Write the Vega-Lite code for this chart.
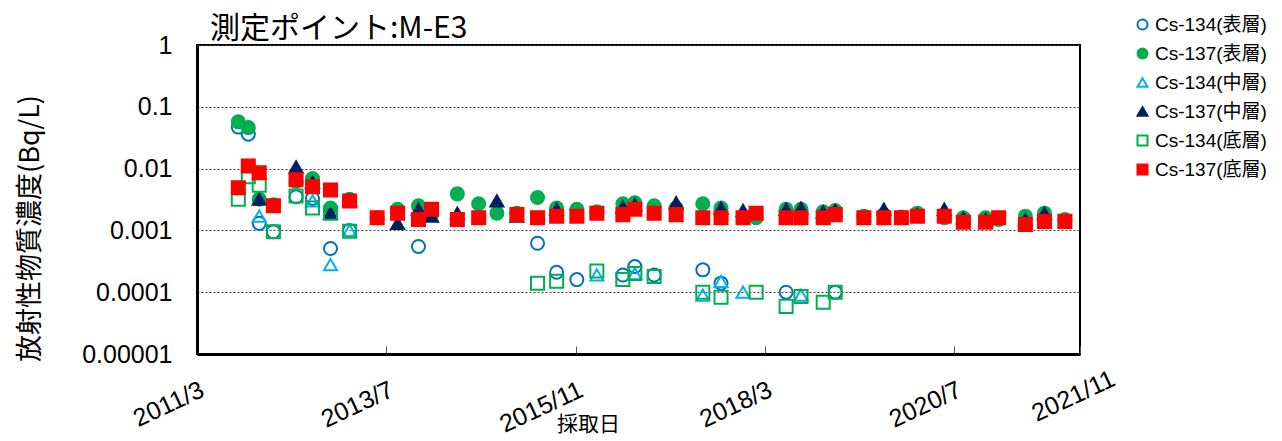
{
  "$schema": "https://vega.github.io/schema/vega-lite/v6.json",
  "width": 883,
  "height": 309,
  "autosize": {"type": "none"},
  "padding": {"left": 197, "top": 45, "right": 202, "bottom": 87},
  "background": "white",
  "title": {"text": "測定ポイント:M-E3", "anchor": "start", "frame": "group", "dx": 13, "dy": 35, "offset": 6, "fontSize": 30, "font": "Noto Sans CJK JP", "fontWeight": "normal", "color": "#000"},
  "config": {
    "view": {"stroke": "#000", "strokeWidth": 2},
    "legend": {"orient": "none", "legendX": 936, "legendY": -30, "symbolSize": 100, "symbolStrokeWidth": 2, "labelFontSize": 19, "labelFont": "Liberation Sans, Noto Sans CJK JP", "labelColor": "#000", "rowPadding": 9, "padding": 0, "labelOffset": 3, "labelLimit": 300}
  },
  "data": {"values": [
    {"s":"Cs-134(表層)","d":"2011-09-03","v":0.047},
    {"s":"Cs-134(表層)","d":"2011-10-18","v":0.036},
    {"s":"Cs-134(表層)","d":"2011-12-06","v":0.0013},
    {"s":"Cs-134(表層)","d":"2012-02-08","v":0.00095},
    {"s":"Cs-134(表層)","d":"2012-05-20","v":0.0035},
    {"s":"Cs-134(表層)","d":"2012-08-02","v":0.0033},
    {"s":"Cs-134(表層)","d":"2012-10-22","v":0.00051},
    {"s":"Cs-134(表層)","d":"2013-01-16","v":0.001},
    {"s":"Cs-134(表層)","d":"2013-11-22","v":0.00055},
    {"s":"Cs-134(表層)","d":"2015-05-12","v":0.00062},
    {"s":"Cs-134(表層)","d":"2015-08-06","v":0.00021},
    {"s":"Cs-134(表層)","d":"2015-11-05","v":0.00016},
    {"s":"Cs-134(表層)","d":"2016-05-30","v":0.00019},
    {"s":"Cs-134(表層)","d":"2016-07-23","v":0.00026},
    {"s":"Cs-134(表層)","d":"2016-10-18","v":0.00019},
    {"s":"Cs-134(表層)","d":"2017-05-25","v":0.00023},
    {"s":"Cs-134(表層)","d":"2017-08-15","v":0.00014},
    {"s":"Cs-134(表層)","d":"2018-06-04","v":0.0001},
    {"s":"Cs-134(表層)","d":"2019-01-11","v":0.0001},

    {"s":"Cs-137(表層)","d":"2011-09-03","v":0.057},
    {"s":"Cs-137(表層)","d":"2011-10-18","v":0.046},
    {"s":"Cs-137(表層)","d":"2011-12-06","v":0.0032},
    {"s":"Cs-137(表層)","d":"2012-02-08","v":0.0026},
    {"s":"Cs-137(表層)","d":"2012-05-20","v":0.0062},
    {"s":"Cs-137(表層)","d":"2012-08-02","v":0.0069},
    {"s":"Cs-137(表層)","d":"2012-10-22","v":0.0023},
    {"s":"Cs-137(表層)","d":"2013-01-16","v":0.0032},
    {"s":"Cs-137(表層)","d":"2013-05-20","v":0.0016},
    {"s":"Cs-137(表層)","d":"2013-08-20","v":0.0022},
    {"s":"Cs-137(表層)","d":"2013-11-22","v":0.0025},
    {"s":"Cs-137(表層)","d":"2014-01-20","v":0.0018},
    {"s":"Cs-137(表層)","d":"2014-05-16","v":0.0039},
    {"s":"Cs-137(表層)","d":"2014-08-20","v":0.0027},
    {"s":"Cs-137(表層)","d":"2014-11-10","v":0.0019},
    {"s":"Cs-137(表層)","d":"2015-02-08","v":0.0019},
    {"s":"Cs-137(表層)","d":"2015-05-12","v":0.0034},
    {"s":"Cs-137(表層)","d":"2015-08-06","v":0.0023},
    {"s":"Cs-137(表層)","d":"2015-11-05","v":0.0022},
    {"s":"Cs-137(表層)","d":"2016-02-03","v":0.002},
    {"s":"Cs-137(表層)","d":"2016-05-30","v":0.0027},
    {"s":"Cs-137(表層)","d":"2016-07-23","v":0.0028},
    {"s":"Cs-137(表層)","d":"2016-10-18","v":0.0025},
    {"s":"Cs-137(表層)","d":"2017-01-25","v":0.0023},
    {"s":"Cs-137(表層)","d":"2017-05-25","v":0.0027},
    {"s":"Cs-137(表層)","d":"2017-08-15","v":0.0023},
    {"s":"Cs-137(表層)","d":"2018-01-20","v":0.0016},
    {"s":"Cs-137(表層)","d":"2018-06-04","v":0.0022},
    {"s":"Cs-137(表層)","d":"2018-08-10","v":0.0022},
    {"s":"Cs-137(表層)","d":"2018-11-18","v":0.002},
    {"s":"Cs-137(表層)","d":"2019-01-11","v":0.0021},
    {"s":"Cs-137(表層)","d":"2019-05-20","v":0.0017},
    {"s":"Cs-137(表層)","d":"2019-08-18","v":0.0018},
    {"s":"Cs-137(表層)","d":"2019-11-05","v":0.00165},
    {"s":"Cs-137(表層)","d":"2020-01-16","v":0.0019},
    {"s":"Cs-137(表層)","d":"2020-05-16","v":0.0016},
    {"s":"Cs-137(表層)","d":"2020-08-10","v":0.0016},
    {"s":"Cs-137(表層)","d":"2020-11-18","v":0.0016},
    {"s":"Cs-137(表層)","d":"2021-01-16","v":0.0015},
    {"s":"Cs-137(表層)","d":"2021-05-16","v":0.0017},
    {"s":"Cs-137(表層)","d":"2021-08-10","v":0.0019},
    {"s":"Cs-137(表層)","d":"2021-11-10","v":0.0015},

    {"s":"Cs-134(中層)","d":"2011-12-06","v":0.0017},
    {"s":"Cs-134(中層)","d":"2012-08-02","v":0.003},
    {"s":"Cs-134(中層)","d":"2012-10-22","v":0.00028},
    {"s":"Cs-134(中層)","d":"2013-01-16","v":0.001},
    {"s":"Cs-134(中層)","d":"2016-02-03","v":0.00019},
    {"s":"Cs-134(中層)","d":"2016-07-23","v":0.0002},
    {"s":"Cs-134(中層)","d":"2017-05-25","v":0.00009},
    {"s":"Cs-134(中層)","d":"2017-08-15","v":0.00015},
    {"s":"Cs-134(中層)","d":"2017-11-22","v":0.0001},
    {"s":"Cs-134(中層)","d":"2018-08-10","v":0.00009},

    {"s":"Cs-137(中層)","d":"2011-12-06","v":0.0032},
    {"s":"Cs-137(中層)","d":"2012-05-20","v":0.0107},
    {"s":"Cs-137(中層)","d":"2012-08-02","v":0.006},
    {"s":"Cs-137(中層)","d":"2012-10-22","v":0.0019},
    {"s":"Cs-137(中層)","d":"2013-01-16","v":0.0031},
    {"s":"Cs-137(中層)","d":"2013-08-20","v":0.0013},
    {"s":"Cs-137(中層)","d":"2013-11-22","v":0.0022},
    {"s":"Cs-137(中層)","d":"2014-01-20","v":0.0017},
    {"s":"Cs-137(中層)","d":"2014-05-16","v":0.0019},
    {"s":"Cs-137(中層)","d":"2014-11-10","v":0.003},
    {"s":"Cs-137(中層)","d":"2015-02-08","v":0.0017},
    {"s":"Cs-137(中層)","d":"2015-08-06","v":0.0022},
    {"s":"Cs-137(中層)","d":"2016-05-30","v":0.0024},
    {"s":"Cs-137(中層)","d":"2016-07-23","v":0.0026},
    {"s":"Cs-137(中層)","d":"2017-01-25","v":0.0028},
    {"s":"Cs-137(中層)","d":"2017-08-15","v":0.0023},
    {"s":"Cs-137(中層)","d":"2017-11-22","v":0.0021},
    {"s":"Cs-137(中層)","d":"2018-06-04","v":0.0022},
    {"s":"Cs-137(中層)","d":"2018-08-10","v":0.0023},
    {"s":"Cs-137(中層)","d":"2018-11-18","v":0.002},
    {"s":"Cs-137(中層)","d":"2019-01-11","v":0.0021},
    {"s":"Cs-137(中層)","d":"2019-08-18","v":0.0022},
    {"s":"Cs-137(中層)","d":"2020-01-16","v":0.0018},
    {"s":"Cs-137(中層)","d":"2020-05-16","v":0.0022},
    {"s":"Cs-137(中層)","d":"2020-08-10","v":0.0016},
    {"s":"Cs-137(中層)","d":"2020-11-18","v":0.0015},
    {"s":"Cs-137(中層)","d":"2021-05-16","v":0.0015},
    {"s":"Cs-137(中層)","d":"2021-08-10","v":0.0019},

    {"s":"Cs-134(底層)","d":"2011-09-03","v":0.0032},
    {"s":"Cs-134(底層)","d":"2011-10-18","v":0.0074},
    {"s":"Cs-134(底層)","d":"2011-12-06","v":0.0054},
    {"s":"Cs-134(底層)","d":"2012-02-08","v":0.00095},
    {"s":"Cs-134(底層)","d":"2012-05-20","v":0.0036},
    {"s":"Cs-134(底層)","d":"2012-08-02","v":0.0023},
    {"s":"Cs-134(底層)","d":"2012-10-22","v":0.0019},
    {"s":"Cs-134(底層)","d":"2013-01-16","v":0.00097},
    {"s":"Cs-134(底層)","d":"2015-05-12","v":0.00014},
    {"s":"Cs-134(底層)","d":"2015-08-06","v":0.00015},
    {"s":"Cs-134(底層)","d":"2016-02-03","v":0.00022},
    {"s":"Cs-134(底層)","d":"2016-05-30","v":0.00016},
    {"s":"Cs-134(底層)","d":"2016-07-23","v":0.0002},
    {"s":"Cs-134(底層)","d":"2016-10-18","v":0.00018},
    {"s":"Cs-134(底層)","d":"2017-05-25","v":0.0001},
    {"s":"Cs-134(底層)","d":"2017-08-15","v":0.000083},
    {"s":"Cs-134(底層)","d":"2018-01-20","v":0.0001},
    {"s":"Cs-134(底層)","d":"2018-06-04","v":0.000059},
    {"s":"Cs-134(底層)","d":"2018-08-10","v":0.000085},
    {"s":"Cs-134(底層)","d":"2018-11-18","v":0.000069},
    {"s":"Cs-134(底層)","d":"2019-01-11","v":0.0001},

    {"s":"Cs-137(底層)","d":"2011-09-03","v":0.0049},
    {"s":"Cs-137(底層)","d":"2011-10-18","v":0.011},
    {"s":"Cs-137(底層)","d":"2011-12-06","v":0.0086},
    {"s":"Cs-137(底層)","d":"2012-02-08","v":0.0025},
    {"s":"Cs-137(底層)","d":"2012-05-20","v":0.0066},
    {"s":"Cs-137(底層)","d":"2012-08-02","v":0.0051},
    {"s":"Cs-137(底層)","d":"2012-10-22","v":0.0045},
    {"s":"Cs-137(底層)","d":"2013-01-16","v":0.003},
    {"s":"Cs-137(底層)","d":"2013-05-20","v":0.0016},
    {"s":"Cs-137(底層)","d":"2013-08-20","v":0.0019},
    {"s":"Cs-137(底層)","d":"2013-11-22","v":0.0015},
    {"s":"Cs-137(底層)","d":"2014-01-20","v":0.0022},
    {"s":"Cs-137(底層)","d":"2014-05-16","v":0.0015},
    {"s":"Cs-137(底層)","d":"2014-08-20","v":0.0016},
    {"s":"Cs-137(底層)","d":"2015-02-08","v":0.0018},
    {"s":"Cs-137(底層)","d":"2015-05-12","v":0.0016},
    {"s":"Cs-137(底層)","d":"2015-08-06","v":0.0017},
    {"s":"Cs-137(底層)","d":"2015-11-05","v":0.0017},
    {"s":"Cs-137(底層)","d":"2016-02-03","v":0.0019},
    {"s":"Cs-137(底層)","d":"2016-05-30","v":0.0018},
    {"s":"Cs-137(底層)","d":"2016-07-23","v":0.0022},
    {"s":"Cs-137(底層)","d":"2016-10-18","v":0.0019},
    {"s":"Cs-137(底層)","d":"2017-01-25","v":0.0018},
    {"s":"Cs-137(底層)","d":"2017-05-25","v":0.0016},
    {"s":"Cs-137(底層)","d":"2017-08-15","v":0.0016},
    {"s":"Cs-137(底層)","d":"2017-11-22","v":0.0016},
    {"s":"Cs-137(底層)","d":"2018-01-20","v":0.0019},
    {"s":"Cs-137(底層)","d":"2018-06-04","v":0.0016},
    {"s":"Cs-137(底層)","d":"2018-08-10","v":0.0016},
    {"s":"Cs-137(底層)","d":"2018-11-18","v":0.0016},
    {"s":"Cs-137(底層)","d":"2019-01-11","v":0.0018},
    {"s":"Cs-137(底層)","d":"2019-05-20","v":0.0016},
    {"s":"Cs-137(底層)","d":"2019-08-18","v":0.0016},
    {"s":"Cs-137(底層)","d":"2019-11-05","v":0.0016},
    {"s":"Cs-137(底層)","d":"2020-01-16","v":0.0017},
    {"s":"Cs-137(底層)","d":"2020-05-16","v":0.0017},
    {"s":"Cs-137(底層)","d":"2020-08-10","v":0.00135},
    {"s":"Cs-137(底層)","d":"2020-11-18","v":0.00135},
    {"s":"Cs-137(底層)","d":"2021-01-16","v":0.0016},
    {"s":"Cs-137(底層)","d":"2021-05-16","v":0.00125},
    {"s":"Cs-137(底層)","d":"2021-08-10","v":0.0014},
    {"s":"Cs-137(底層)","d":"2021-11-10","v":0.0014}
  ]},
  "mark": {"type": "point", "size": 170, "strokeWidth": 2, "opacity": 1},
  "encoding": {
    "x": {
      "field": "d", "type": "temporal",
      "scale": {"domain": [{"year": 2011, "month": 3, "date": 1}, {"year": 2022, "month": 1, "date": 17}]},
      "axis": {
        "values": [{"year": 2011, "month": 3, "date": 1}, {"year": 2013, "month": 7, "date": 1}, {"year": 2015, "month": 11, "date": 1}, {"year": 2018, "month": 3, "date": 1}, {"year": 2020, "month": 7, "date": 1}, {"year": 2022, "month": 1, "date": 17}],
        "labelExpr": "year(datum.value) == 2022 ? '2021/11' : timeFormat(datum.value, '%Y/%-m')",
        "labelAngle": -25,
        "labelFontSize": 25,
        "labelFont": "Liberation Sans Narrow, Liberation Sans",
        "labelColor": "#000",
        "labelPadding": {"condition": {"test": "year(datum.value) == 2022", "value": 20}, "value": 31},
        "labelOffset": {"condition": {"test": "year(datum.value) == 2022", "value": 28}, "value": 0},
        "labelOverlap": false,
        "labelBound": false,
        "labelFlush": false,
        "tickSize": -8,
        "tickColor": "#555",
        "tickWidth": 1,
        "grid": false,
        "domainColor": "#000",
        "domainWidth": 3,
        "title": "採取日",
        "titleFont": "Noto Sans CJK JP",
        "titleFontSize": 21,
        "titleFontWeight": "normal",
        "titleColor": "#000",
        "titleX": 391,
        "titleY": 70,
        "titleBaseline": "middle",
        "titleAlign": "center"
      }
    },
    "y": {
      "field": "v", "type": "quantitative",
      "scale": {"type": "log", "domain": [0.00001, 1]},
      "axis": {
        "values": [1, 0.1, 0.01, 0.001, 0.0001, 0.00001],
        "labelExpr": "datum.value > 0.5 ? '1' : datum.value > 0.05 ? '0.1' : datum.value > 0.005 ? '0.01' : datum.value > 0.0005 ? '0.001' : datum.value > 0.00005 ? '0.0001' : '0.00001'",
        "labelFontSize": 25,
        "labelFont": "Liberation Sans Narrow, Liberation Sans",
        "labelColor": "#000",
        "labelPadding": 25,
        "ticks": false,
        "grid": true,
        "gridDash": [2, 2],
        "gridColor": "#444",
        "gridWidth": 1,
        "domainColor": "#000",
        "domainWidth": 3,
        "title": "放射性物質濃度(Bq/L)",
        "titleFont": "Noto Sans CJK JP",
        "titleFontSize": 27,
        "titleFontWeight": "normal",
        "titleColor": "#000",
        "titleX": -167,
        "titleY": 183,
        "titleAngle": -90,
        "titleBaseline": "middle",
        "titleAlign": "center"
      }
    },
    "shape": {
      "field": "s", "type": "nominal", "title": null,
      "scale": {"domain": ["Cs-134(表層)", "Cs-137(表層)", "Cs-134(中層)", "Cs-137(中層)", "Cs-134(底層)", "Cs-137(底層)"], "range": ["circle", "circle", "triangle-up", "triangle-up", "square", "square"]}
    },
    "stroke": {
      "field": "s", "type": "nominal", "title": null,
      "scale": {"domain": ["Cs-134(表層)", "Cs-137(表層)", "Cs-134(中層)", "Cs-137(中層)", "Cs-134(底層)", "Cs-137(底層)"], "range": ["#0070C0", "#00B050", "#00B0F0", "#002060", "#00B050", "#FF0000"]}
    },
    "fill": {
      "field": "s", "type": "nominal", "title": null,
      "scale": {"domain": ["Cs-134(表層)", "Cs-137(表層)", "Cs-134(中層)", "Cs-137(中層)", "Cs-134(底層)", "Cs-137(底層)"], "range": ["transparent", "#00B050", "transparent", "#002060", "transparent", "#FF0000"]}
    }
  }
}
